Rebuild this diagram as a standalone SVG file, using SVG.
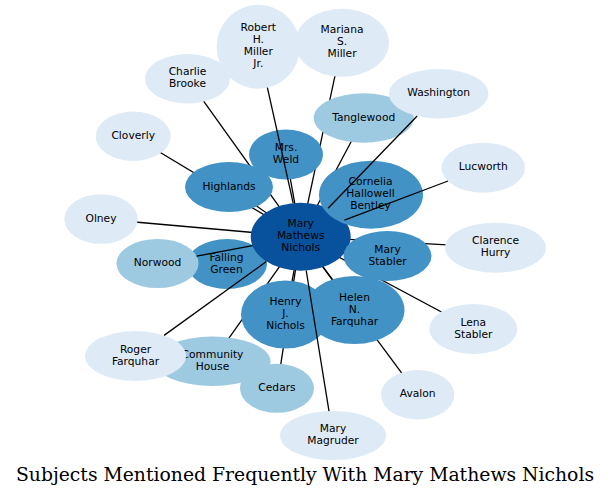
<svg xmlns="http://www.w3.org/2000/svg" width="611" height="497" viewBox="0 0 611 497">
<style>
.e{stroke:#000;stroke-width:1.3;fill:none}
.d{fill:#08519c}.m{fill:#4292c6}.l{fill:#9ecae1}.p{fill:#deebf7}
text{font-family:"DejaVu Sans",Verdana,sans-serif;font-size:10.7px;fill:#000;text-anchor:middle}
.t{font-family:"DejaVu Serif","Liberation Serif",serif;font-size:18.8px}
</style>
<rect width="611" height="497" fill="#fff"/>
<g id="connectors-back">
<line class="e" x1="300.7" y1="236.7" x2="286" y2="154.5"/>
<line class="e" x1="300.7" y1="236.7" x2="229" y2="187"/>
<line class="e" x1="300.7" y1="236.7" x2="371" y2="194.7"/>
<line class="e" x1="300.7" y1="236.7" x2="387.5" y2="256"/>
<line class="e" x1="300.7" y1="236.7" x2="227" y2="264"/>
<line class="e" x1="300.7" y1="236.7" x2="285.5" y2="314.5"/>
<line class="e" x1="300.7" y1="236.7" x2="354.5" y2="310"/>
<line class="e" x1="300.7" y1="236.7" x2="212.5" y2="361.3"/>
<line class="e" x1="300.7" y1="236.7" x2="277" y2="388.3"/>
<line class="e" x1="300.7" y1="236.7" x2="417.7" y2="394.7"/>
<line class="e" x1="300.7" y1="236.7" x2="473.3" y2="329"/>
<line class="e" x1="300.7" y1="236.7" x2="187.5" y2="78.7"/>
<line class="e" x1="300.7" y1="236.7" x2="342" y2="42.8"/>
<line class="e" x1="300.7" y1="236.7" x2="363.7" y2="118"/>
<line class="e" x1="300.7" y1="236.7" x2="133.2" y2="136.3"/>
<line class="e" x1="300.7" y1="236.7" x2="101" y2="219"/>
<line class="e" x1="300.7" y1="236.7" x2="495.5" y2="247.7"/>
</g>
<g id="mariana"><ellipse class="p" cx="342" cy="42.8" rx="47" ry="34"/><text x="342" y="33.4">Mariana</text><text x="342" y="45.4">S.</text><text x="342" y="57.4">Miller</text></g>
<g id="robert"><ellipse class="p" cx="258.3" cy="46.7" rx="41.7" ry="42"/><text x="258.3" y="31.3">Robert</text><text x="258.3" y="43.3">H.</text><text x="258.3" y="55.3">Miller</text><text x="258.3" y="67.3">Jr.</text></g>
<g id="charlie"><ellipse class="p" cx="187.5" cy="78.7" rx="42.5" ry="24.7"/><text x="187.5" y="75.3">Charlie</text><text x="187.5" y="87.3">Brooke</text></g>
<g id="cloverly"><ellipse class="p" cx="133.2" cy="136.3" rx="37.5" ry="24.7"/><text x="133.2" y="138.9">Cloverly</text></g>
<g id="olney"><ellipse class="p" cx="101" cy="219" rx="36.7" ry="24.8"/><text x="101" y="221.6">Olney</text></g>
<g id="tanglewood"><ellipse class="l" cx="363.7" cy="118" rx="50" ry="24.7"/><text x="363.7" y="120.6">Tanglewood</text></g>
<g id="washington"><ellipse class="p" cx="438.7" cy="93.7" rx="49.7" ry="24.7"/><text x="438.7" y="96.3">Washington</text></g>
<g id="lucworth"><ellipse class="p" cx="483.3" cy="167.7" rx="41.7" ry="25"/><text x="483.3" y="170.3">Lucworth</text></g>
<g id="clarence"><ellipse class="p" cx="495.5" cy="247.7" rx="50.5" ry="25"/><text x="495.5" y="244.3">Clarence</text><text x="495.5" y="256.3">Hurry</text></g>
<g id="lena"><ellipse class="p" cx="473.3" cy="329" rx="44" ry="25"/><text x="473.3" y="325.6">Lena</text><text x="473.3" y="337.6">Stabler</text></g>
<g id="avalon"><ellipse class="p" cx="417.7" cy="394.7" rx="36.7" ry="24.7"/><text x="417.7" y="397.3">Avalon</text></g>
<g id="magruder"><ellipse class="p" cx="333" cy="435.5" rx="53" ry="24.5"/><text x="333" y="432.1">Mary</text><text x="333" y="444.1">Magruder</text></g>
<g id="community"><ellipse class="l" cx="212.5" cy="361.3" rx="58" ry="24.7"/><text x="212.5" y="357.9">Community</text><text x="212.5" y="369.9">House</text></g>
<g id="roger"><ellipse class="p" cx="135.5" cy="356" rx="50.5" ry="25"/><text x="135.5" y="352.6">Roger</text><text x="135.5" y="364.6">Farquhar</text></g>
<g id="cedars"><ellipse class="l" cx="277" cy="388.3" rx="37" ry="24.5"/><text x="277" y="390.9">Cedars</text></g>
<g id="weld"><ellipse class="m" cx="286" cy="154.5" rx="37" ry="25"/><text x="286" y="151.1">Mrs.</text><text x="286" y="163.1">Weld</text></g>
<g id="highlands"><ellipse class="m" cx="229" cy="187" rx="44" ry="25"/><text x="229" y="189.6">Highlands</text></g>
<g id="falling"><ellipse class="m" cx="227" cy="264" rx="40" ry="25"/><text x="226.5" y="260.6">Falling</text><text x="226.5" y="272.6">Green</text></g>
<g id="norwood"><ellipse class="l" cx="157.5" cy="263.5" rx="41" ry="24.5"/><text x="157.5" y="266.1">Norwood</text></g>
<g id="henry"><ellipse class="m" cx="285.5" cy="314.5" rx="44.5" ry="34"/><text x="285.5" y="305.1">Henry</text><text x="285.5" y="317.1">J.</text><text x="285.5" y="329.1">Nichols</text></g>
<g id="helen"><ellipse class="m" cx="354.5" cy="310" rx="50" ry="34"/><text x="354.5" y="300.6">Helen</text><text x="354.5" y="312.6">N.</text><text x="354.5" y="324.6">Farquhar</text></g>
<g id="mary"><ellipse class="d" cx="300.7" cy="236.7" rx="50" ry="34"/><text x="300.7" y="227.3">Mary</text><text x="300.7" y="239.3">Mathews</text><text x="300.7" y="251.3">Nichols</text></g>
<g id="cornelia"><ellipse class="m" cx="371" cy="194.7" rx="52" ry="34"/><text x="370.5" y="185.3">Cornelia</text><text x="370.5" y="197.3">Hallowell</text><text x="370.5" y="209.3">Bentley</text></g>
<g id="stabler"><ellipse class="m" cx="387.5" cy="256" rx="44" ry="25"/><text x="387.5" y="252.6">Mary</text><text x="387.5" y="264.6">Stabler</text></g>
<g id="connectors-front">
<line class="e" x1="293.2" y1="203.1" x2="267.4" y2="87.7"/>
<line class="e" x1="328.1" y1="208.3" x2="417.2" y2="116"/>
<line class="e" x1="344.4" y1="220.2" x2="448" y2="181"/>
<line class="e" x1="252.5" y1="245.7" x2="196.6" y2="256.2"/>
<line class="e" x1="266.4" y1="261.5" x2="164.1" y2="335.4"/>
<line class="e" x1="306.2" y1="270.5" x2="329" y2="411.1"/>
</g>
<text class="t" x="305" y="481">Subjects Mentioned Frequently With Mary Mathews Nichols</text>
</svg>
